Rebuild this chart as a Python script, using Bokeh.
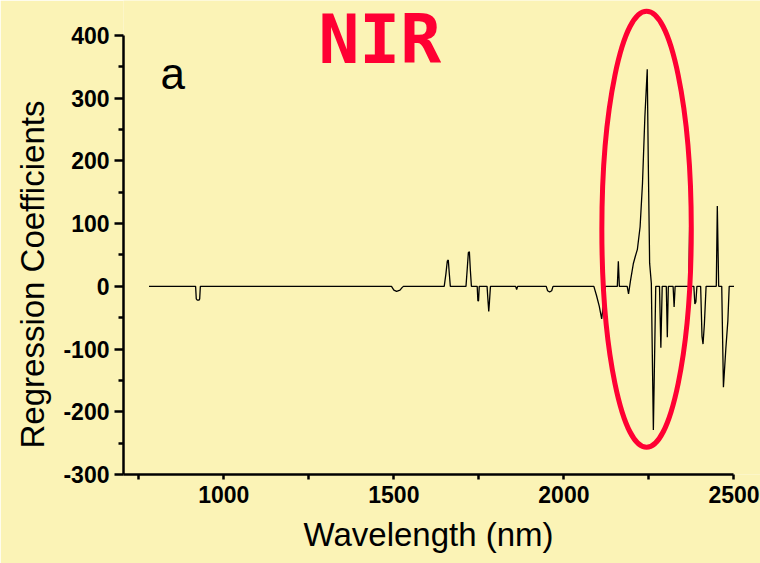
from bokeh.plotting import figure
from bokeh.models import FixedTicker, Label, Range1d, Title
from bokeh.embed import file_html
from bokeh.resources import INLINE

# ---- data ----
wavelength = [780, 917, 919, 922, 927, 929, 931,
              1493, 1500, 1508, 1518, 1524, 1528,
              1648, 1653, 1657, 1660, 1663, 1666,
              1712, 1716, 1719, 1722, 1725, 1728,
              1745, 1747, 1749, 1751,
              1774, 1777, 1779, 1781, 1784,
              1858, 1861, 1864,
              1948, 1952, 1958, 1964, 1968,
              2088, 2096, 2104, 2111, 2117, 2122,
              2157, 2160, 2163,
              2186, 2190, 2196, 2204, 2210, 2216, 2224, 2231, 2238, 2245, 2248, 2252, 2257, 2263, 2270,
              2281, 2285, 2289,
              2301, 2304, 2307,
              2321, 2324, 2327,
              2367, 2370, 2373,
              2382, 2385, 2388, 2391,
              2402, 2406, 2409, 2413, 2418,
              2448, 2451, 2455,
              2464, 2469, 2476, 2482, 2486, 2500]
coefficients = [0, 0, -20, -22, -22, -20, 0,
                0, -6, -8, -6, -2, 0,
                0, 20, 40, 42, 20, 0,
                0, 30, 54, 55, 25, 0,
                0, -23, -23, 0,
                0, -25, -40, -25, 0,
                0, -5, 0,
                0, -7, -9, -7, 0,
                0, -15, -32, -52, -25, 0,
                0, 40, 0,
                0, -12, 10, 36, 48, 59, 95, 164, 270, 346, 200, 37, 5, -229, 0,
                0, -98, 0,
                0, -81, 0,
                0, -33, 0,
                0, 110, 0,
                0, -28, -25, 0,
                0, -80, -92, -60, 0,
                0, 128, 0,
                0, -161, -100, -55, 0, 0]

x_ticks = [1000, 1500, 2000, 2500]
x_minor = [750, 1250, 1750, 2250]
y_ticks = [-300, -200, -100, 0, 100, 200, 300, 400]
y_minor = [-250, -150, -50, 50, 150, 250, 350]

x_title = "Wavelength (nm)"
y_title = "Regression Coefficients"

BG = "#FBF3B6"
RED = "#FF0033"

p = figure(width=760, height=563,
           x_range=Range1d(705, 2578), y_range=Range1d(-300, 455.8),
           output_backend="svg", toolbar_location=None,
           min_border_left=123, min_border_right=0,
           min_border_top=0, min_border_bottom=89)

p.background_fill_color = BG
p.border_fill_color = BG
p.outline_line_color = None
p.xgrid.visible = False
p.ygrid.visible = False

for ax in (p.xaxis[0], p.yaxis[0]):
    ax.axis_line_width = 2.5
    ax.axis_line_color = "black"
    ax.major_tick_line_width = 2.5
    ax.minor_tick_line_width = 2.5
    ax.major_tick_in = 0
    ax.minor_tick_in = 0
    ax.major_label_text_font = "Liberation Sans"
    ax.major_label_text_font_style = "bold"
    ax.major_label_text_font_size = "23px"
    ax.major_label_text_color = "black"

p.xaxis.bounds = (705, 2500)
p.yaxis.bounds = (-300, 400)
p.xaxis.ticker = FixedTicker(ticks=x_ticks, minor_ticks=x_minor)
p.yaxis.ticker = FixedTicker(ticks=y_ticks, minor_ticks=y_minor)
p.yaxis.major_label_overrides = {t: str(t) for t in y_ticks}
p.xaxis.major_tick_out = 5
p.xaxis.minor_tick_out = 5
p.yaxis.major_tick_out = 9
p.yaxis.minor_tick_out = 5
p.xaxis.major_label_standoff = 6
p.yaxis.major_label_standoff = 5

p.line(wavelength, coefficients, line_color="black", line_width=1.3)

p.ellipse(x=[2243], y=[91], width=[263], height=[695],
          fill_color=None, line_color=RED, line_width=5)

# axis titles as side titles, shifted to sit centred on the axis extent
p.add_layout(Title(text=x_title, align="left", offset=180,
                   text_font="Liberation Sans", text_font_style="normal",
                   text_font_size="33px", text_color="black", standoff=16), "below")
p.add_layout(Title(text=y_title, align="left", offset=26,
                   text_font="Liberation Sans", text_font_style="normal",
                   text_font_size="33px", text_color="black", standoff=19), "left")

p.add_layout(Label(x=814, y=340, text="a", text_font="Liberation Sans",
                   text_font_size="44px", text_color="black",
                   text_baseline="alphabetic"))
p.add_layout(Label(x=1278, y=394, text="NIR", text_font="DejaVu Sans Mono",
                   text_font_style="bold", text_font_size="68px",
                   text_color=RED, text_baseline="alphabetic"))

open("out.html", "w").write(file_html(p, INLINE))
